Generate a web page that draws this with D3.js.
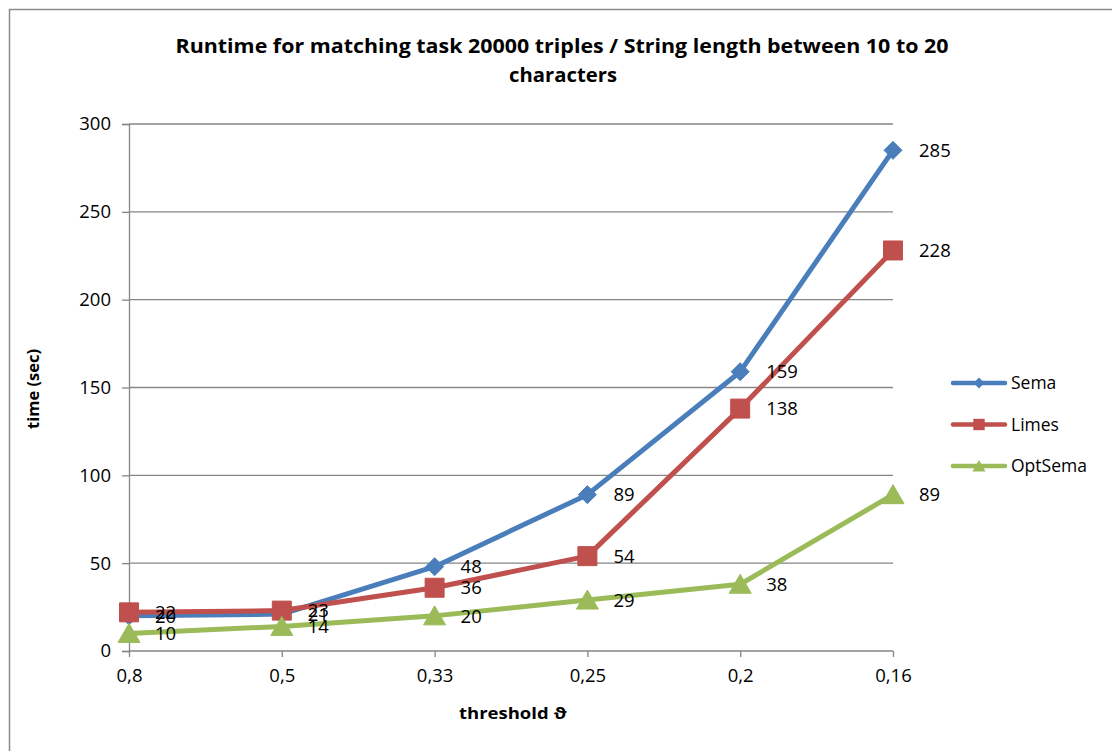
<!DOCTYPE html>
<html>
<head>
<meta charset="utf-8">
<script src="https://cdn.jsdelivr.net/npm/d3@7"></script>
<style>
  html, body { margin: 0; padding: 0; background: #fff; }
  svg { display: block; }
  text { font-family: "Open Sans", "Noto Sans", sans-serif; fill: #000; }
</style>
</head>
<body>
<svg id="chart" width="1112" height="751"></svg>
<script>
// Thresholds on the x axis (categories)
const thresholds = ["0,8", "0,5", "0,33", "0,25", "0,2", "0,16"];
// Runtime in seconds for each matcher
const sema    = [20, 21, 48, 89, 159, 285];
const limes   = [22, 23, 36, 54, 138, 228];
const optSema = [10, 14, 20, 29, 38, 89];
const yTicks  = [0, 50, 100, 150, 200, 250, 300];

const seriesList = [
  { name: "Sema",    values: sema,    color: "#4A7EBB", marker: "diamond" },
  { name: "Limes",   values: limes,   color: "#C0504D", marker: "square" },
  { name: "OptSema", values: optSema, color: "#9BBB59", marker: "triangle" }
];

const svg = d3.select("#chart");

// Outer chart frame (extends past the window on right and bottom)
svg.append("rect")
  .attr("x", 9.5).attr("y", 9.5)
  .attr("width", 1130).attr("height", 780)
  .attr("fill", "#fff").attr("stroke", "#8c8c8c").attr("stroke-width", 1.5);

const x = d3.scalePoint().domain(thresholds).range([129, 893]);
const y = d3.scaleLinear().domain([0, 300]).range([651, 124]);

// Value axis with left tick stubs
const yAxis = d3.axisLeft(y).tickValues(yTicks).tickSize(7).tickPadding(11);
const yG = svg.append("g").attr("transform", "translate(129,0)").call(yAxis);
yG.select(".domain").attr("stroke", "#868686").attr("stroke-width", 1.3);
yG.selectAll(".tick line").attr("stroke", "#868686").attr("stroke-width", 1.3);
yG.selectAll(".tick text").attr("font-size", 18.5).attr("fill", "#000");

// Horizontal gridlines
svg.append("g").selectAll("line").data(yTicks.filter(d => d > 0)).join("line")
  .attr("x1", 129).attr("x2", 893)
  .attr("y1", d => y(d)).attr("y2", d => y(d))
  .attr("stroke", "#868686").attr("stroke-width", 1.3);

// Category axis
const xAxis = d3.axisBottom(x).tickSize(6).tickPadding(12);
const xG = svg.append("g").attr("transform", "translate(0,651)").call(xAxis);
xG.select(".domain").attr("stroke", "#868686").attr("stroke-width", 1.3)
  .attr("d", "M129,0H893");
xG.selectAll(".tick line").attr("stroke", "#868686").attr("stroke-width", 1.3);
xG.selectAll(".tick text").attr("font-size", 18.5).attr("fill", "#000");

// Marker shapes
function markerPath(kind) {
  if (kind === "diamond") return "M0,-9L9,0L0,9L-9,0Z";
  if (kind === "square") return "M-9.5,-9.5H9.5V9.5H-9.5Z";
  return "M0,-10L11,9H-11Z";
}

const line = d3.line().x((d, i) => x(thresholds[i])).y(d => y(d));

seriesList.forEach(s => {
  const g = svg.append("g");
  g.append("path").datum(s.values)
    .attr("d", line)
    .attr("fill", "none").attr("stroke", s.color)
    .attr("stroke-width", 5).attr("stroke-linejoin", "round").attr("stroke-linecap", "round");
  g.selectAll("path.m").data(s.values).join("path")
    .attr("class", "m")
    .attr("transform", (d, i) => `translate(${x(thresholds[i])},${y(d)})`)
    .attr("d", markerPath(s.marker))
    .attr("fill", s.color).attr("stroke", s.color).attr("stroke-width", 1);
});

// Value labels to the right of each point
seriesList.forEach(s => {
  svg.append("g").selectAll("text").data(s.values).join("text")
    .attr("x", (d, i) => x(thresholds[i]) + 26)
    .attr("y", d => y(d))
    .attr("dy", "0.36em")
    .attr("font-size", 18.5)
    .text(d => d);
});

// Title
svg.append("text").attr("x", 562).attr("y", 53).attr("text-anchor", "middle")
  .attr("font-size", 19).attr("font-weight", "bold")
  .attr("textLength", 773).attr("lengthAdjust", "spacingAndGlyphs")
  .text("Runtime for matching task 20000 triples / String length between 10 to 20");
svg.append("text").attr("x", 563).attr("y", 82).attr("text-anchor", "middle")
  .attr("font-size", 19).attr("font-weight", "bold")
  .attr("textLength", 108).attr("lengthAdjust", "spacingAndGlyphs")
  .text("characters");

// Axis titles
svg.append("text").attr("transform", "translate(39,389) rotate(-90)")
  .attr("text-anchor", "middle").attr("font-size", 16.5).attr("font-weight", "bold")
  .attr("textLength", 80).attr("lengthAdjust", "spacingAndGlyphs")
  .text("time (sec)");
svg.append("text").attr("x", 513).attr("y", 719).attr("text-anchor", "middle")
  .attr("font-size", 16.5).attr("font-weight", "bold")
  .attr("textLength", 108).attr("lengthAdjust", "spacingAndGlyphs")
  .text("threshold \u03D1");

// Legend
const legend = svg.append("g");
seriesList.forEach((s, i) => {
  const ly = 383 + i * 41.5;
  const lg = legend.append("g");
  lg.append("line").attr("x1", 953).attr("x2", 1005).attr("y1", ly).attr("y2", ly)
    .attr("stroke", s.color).attr("stroke-width", 4.5).attr("stroke-linecap", "round");
  lg.append("path").attr("transform", `translate(979,${ly}) scale(0.6)`)
    .attr("d", markerPath(s.marker)).attr("fill", s.color);
  lg.append("text").attr("x", 1011).attr("y", ly).attr("dy", "0.36em")
    .attr("font-size", 17.5).text(s.name);
});
</script>
</body>
</html>
